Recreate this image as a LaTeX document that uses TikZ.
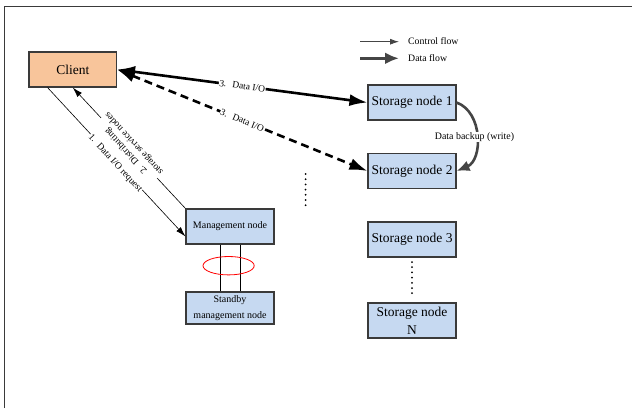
\documentclass[tikz,border=0pt]{standalone}
\usepackage{fontspec}
\setmainfont{Liberation Serif}
\usetikzlibrary{arrows.meta,calc}
\definecolor{peach}{HTML}{F8C59B}
\definecolor{paleblue}{HTML}{C6D9F1}
\definecolor{edge}{HTML}{3A3A3A}
\definecolor{flowgray}{HTML}{454545}
\begin{document}
\begin{tikzpicture}[x=1pt,y=-1pt,
  box/.style={draw=edge, line width=1.1pt, inner sep=0pt, minimum width=88pt, minimum height=35pt, align=center},
  bignode/.style={box, fill=paleblue, font=\fontsize{13.5}{18}\selectfont},
  smallnode/.style={box, fill=paleblue, font=\fontsize{10}{15.5}\selectfont},
  dataflow/.style={line width=2.6pt, {Latex[length=18pt,width=12pt]}-{Latex[length=18pt,width=12pt]}},
  ctrl/.style={line width=0.6pt, -{Latex[length=10pt,width=6pt]}},
  lbl/.style={font=\fontsize{9.5}{11}\selectfont, fill=white, inner sep=0.5pt},
  legendtext/.style={font=\fontsize{9.8}{12}\selectfont, anchor=west, inner sep=0pt},
]
\useasboundingbox (0,0) rectangle (632,408);

% frame
\draw[edge, line width=1.3pt] (4.4,408) -- (4.4,6.3) -- (632,6.3);

% nodes
\node[box, fill=peach, minimum width=87.5pt, font=\fontsize{13.5}{16}\selectfont] (client) at (72.75,69.5) {Client};
\node[bignode] (sn1) at (412,102.5) {Storage node 1};
\node[bignode] (sn2) at (412,171) {Storage node 2};
\node[bignode] (sn3) at (412,239.5) {Storage node 3};
\node[bignode] (snN) at (412,320.5) {Storage node\\N};
\node[smallnode] (mgmt) at (230,226.5) {Management node};
\node[smallnode, minimum height=32pt] (standby) at (230,308) {Standby\\management node};

% legend
\coordinate (ca) at (360,41.7);
\coordinate (cb) at (399,41.7);
\coordinate (da) at (360,58.3);
\coordinate (db) at (399,58.3);
\draw[flowgray, line width=0.8pt, -{Latex[length=9pt,width=6pt]}] (ca) -- (cb);
\draw[flowgray, line width=3pt, -{Latex[length=14pt,width=12pt]}] (da) -- (db);
\node[legendtext] (ctrltext) at (408,41.5) {Control flow};
\node[legendtext] (datatext) at (408,58) {Data flow};

% data paths
\draw[dataflow] (client.east) -- node[lbl, sloped]{3.\hspace{6pt}Data I/O} (sn1.west);
\draw[dataflow, dash pattern=on 8pt off 5pt] (client.east) -- node[lbl, sloped]{3.\hspace{6pt}Data I/O} (sn2.west);

% control paths
\coordinate (reqstart) at ($(client.south)+(-25.2,0)$);
\coordinate (reqend) at ($(mgmt.west)+(0,10)$);
\draw[ctrl] (mgmt.north west) -- (client.south);
\node[lbl, rotate=132.7, align=center] (distlbl) at ($($(mgmt.north west)!0.5!(client.south)$)+(1,-0.9)$) {2.\hspace{5pt}Distributing\\storage service nodes};
\draw[ctrl] (reqstart) -- (reqend);
\node[lbl, rotate=-47.3] (reqlbl) at ($($(reqstart)!0.5!(reqend)$)+(-1.5,1.4)$) {1.\hspace{5pt}Data I/O request};

% replication
\draw[flowgray, line width=2.6pt, -{Latex[length=13pt,width=11pt]}] (sn1.east) .. controls (483,112) and (483,160) .. (sn2.east);
\node[lbl, font=\fontsize{9.9}{12}\selectfont, inner sep=1pt] (backup) at (474.5,137) {Data backup (write)};

% management pair link
\draw[line width=0.8pt] ($(mgmt.south)+(-9.5,0)$) -- ($(standby.north)+(-9.5,0)$);
\draw[line width=0.8pt] ($(mgmt.south)+(10.7,0)$) -- ($(standby.north)+(10.7,0)$);
\draw[red, line width=0.8pt] (228.6,265.7) ellipse (25.6pt and 9.2pt);

% omitted nodes
\foreach \i in {0,...,6} {
  \fill (305.6,174+5.2*\i) circle (1pt);
  \fill (412,262+5.2*\i) circle (1pt);
}
\end{tikzpicture}
\end{document}
